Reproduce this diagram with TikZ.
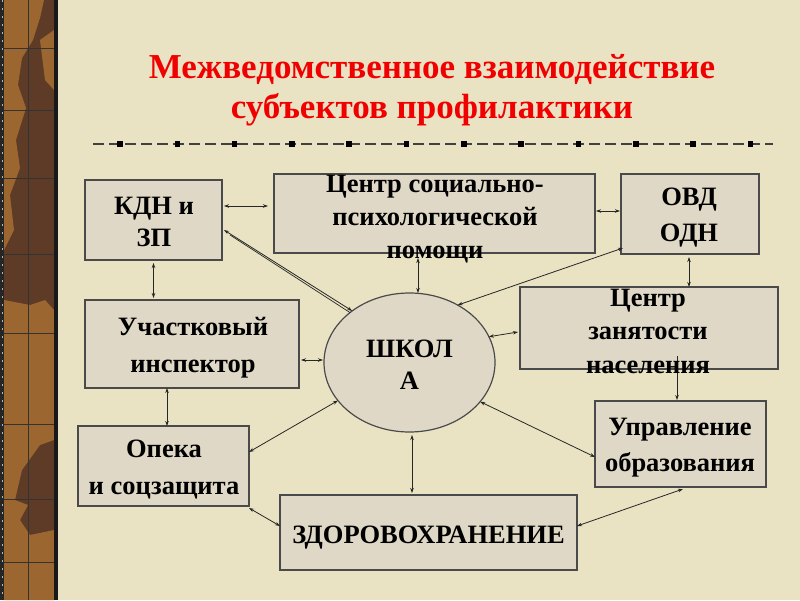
\documentclass[tikz,border=0pt]{standalone}
\usepackage{fontspec}
\setmainfont{Liberation Serif}
\usetikzlibrary{arrows.meta,calc,shapes.geometric}
\definecolor{bg}{HTML}{EAE3C3}
\definecolor{boxfill}{HTML}{DFD8C6}
\definecolor{boxline}{HTML}{4A4A4A}
\definecolor{stripdark}{HTML}{5E3B27}
\definecolor{striporange}{HTML}{9C6630}
\definecolor{titlered}{HTML}{F00000}
\newcommand{\mylines}[2]{{\fontsize{26.5}{#1}\selectfont\bfseries\begin{tabular}[t]{@{}c@{}}#2\end{tabular}}}
\begin{document}
\begin{tikzpicture}[x=1pt,y=-1pt,
  box/.style={draw=boxline,line width=1.2pt,fill=boxfill,rectangle,inner sep=0pt,outer sep=0pt},
  txt/.style={anchor=base,inner sep=0pt,text=black},
  conn/.style={draw=black!85,line width=0.8pt,{Stealth[length=5pt,width=3.5pt]}-{Stealth[length=5pt,width=3.5pt]}},
  oneway/.style={draw=black!85,line width=0.8pt,-{Stealth[length=5pt,width=3.5pt]}},
  grid/.style={draw=black!80,line width=0.6pt}
]
% background
\fill[bg] (0,0) rectangle (800,600);
\useasboundingbox (0,0) rectangle (800,600);
% left strip
\fill[stripdark] (0,0) rectangle (57,600);
\fill[striporange] (4,0) -- (44,0) -- (40,18) -- (33,40) -- (22,58) -- (18,85) -- (26,108) -- (16,140) -- (20,168) -- (10,195) -- (14,230) -- (4,250) -- cycle;
\fill[striporange] (4,300) -- (30,305) -- (45,300) -- (54,310) -- (54,440) -- (40,445) -- (22,470) -- (15,500) -- (28,505) -- (20,520) -- (30,535) -- (54,530) -- (54,600) -- (4,600) -- cycle;
\fill[striporange] (40,40) -- (54,30) -- (54,90) -- (45,80) -- cycle;
\foreach \yy in {48,110,178,254,333,424,499,562}
  \draw[grid] (4,\yy) -- (55,\yy);
\draw[grid] (28,0) -- (28,600);
\fill[black!85] (0,0) rectangle (4,600);
\draw[bg!80!black,line width=1pt,dash pattern=on 2pt off 6pt] (2,0) -- (2,600);
\fill[black!90] (54,0) rectangle (58,600);
% title
\node[anchor=base,inner sep=0pt,text=titlered,font=\fontsize{35}{40}\selectfont\bfseries] (title) at (432,78)
  {\begin{tabular}[t]{@{}c@{}}Межведомственное взаимодействие\\субъектов профилактики\end{tabular}};
% dashed rule with squares
\draw[black!75,line width=1.2pt,dash pattern=on 11pt off 5pt] (93,144) -- (773,144);
\foreach \k in {0,...,11}
  \fill[black] ({120+57.3*\k-2.8},141.2) rectangle ++(5.6,5.6);
% boxes
\node[box,minimum width=137,minimum height=80] (kdn) at (153.5,220) {};
\node[box,minimum width=321,minimum height=79] (csp) at (434.5,213.5) {};
\node[box,minimum width=138,minimum height=80] (ovd) at (690,214) {};
\node[box,minimum width=214,minimum height=88] (uch) at (192,344) {};
\node[box,minimum width=258,minimum height=82] (zan) at (649,328) {};
\node[box,minimum width=171,minimum height=80] (opk) at (163.5,466) {};
\node[box,minimum width=171,minimum height=86] (upr) at (680.5,444) {};
\node[box,minimum width=297,minimum height=75] (zdr) at (428.5,532.5) {};
\node[box,ellipse,minimum width=171,minimum height=139] (sch) at (409.5,362.5) {};
% connectors
\draw[conn] ($(kdn.east |- 0,206)+(2,0)$) -- ($(csp.west |- 0,206)+(-6,0)$);
\draw[conn] ($(csp.east |- 0,211)+(1,0)$) -- ($(ovd.west |- 0,211)+(-1,0)$);
\draw[conn] ($(kdn.south)+(0,3)$) -- ($(uch.north -| kdn.south)+(0,-2)$);
\draw[conn] ($(ovd.south)+(-1,3)$) -- (zan.north -| 689,0);
\draw[conn] ($(csp.south -| 418,0)+(0,5)$) -- (sch.north -| 418,0);
\draw[conn] ($(kdn.east |- 0,230)+(2,0)$) -- (sch.138);
\draw[draw=black!85,line width=0.7pt] ($(kdn.east |- 0,231)+(8,4)$) -- (sch.140);
\draw[conn] ($(ovd.west |- 0,248)+(2,0)$) -- (sch.50);
\draw[conn] ($(uch.east |- 0,360)+(2,0)$) -- ($(sch.west |- 0,360)+(-1,0)$);
\draw[conn] (sch.18) -- ($(zan.west |- 0,332)+(-2,0)$);
\draw[oneway] ($(zan.south -| 677,0)+(0,-13)$) -- ($(upr.north -| 677,0)+(0,-1)$);
\draw[conn] (sch.208) -- (opk.east |- 0,452);
\draw[conn] (sch.331) -- (upr.west |- 0,457);
\draw[conn] ($(sch.south -| 412,0)+(0,3)$) -- ($(zdr.north -| 412,0)+(0,-2)$);
\draw[conn] ($(opk.south east)+(0,2)$) -- (zdr.west |- 0,526);
\draw[conn] (zdr.east |- 0,526) -- ($(upr.south -| 683,0)+(0,2)$);
\draw[conn] (uch.south -| 167,0) -- (opk.north -| 167,0);
% texts
\node[txt] (kdnT) at (154,214) {\mylines{32}{КДН и\\ЗП}};
\node[txt] (cspT) at (435,192.5) {\mylines{33}{Центр социально-\\психологической\\помощи}};
\node[txt] (ovdT) at (689,205) {\mylines{36}{ОВД\\ОДН}};
\node[txt] (uchT) at (193,335) {\mylines{37}{Участковый\\инспектор}};
\node[txt] (zanT) at (648,306) {\mylines{33.5}{Центр\\занятости\\населения}};
\node[txt] (opkT) at (164,457) {\mylines{37.5}{Опека\\и соцзащита}};
\node[txt] (uprT) at (680,435) {\mylines{36.7}{Управление\\образования}};
\node[txt] (zdrT) at (428.5,543) {\mylines{30}{ЗДОРОВОХРАНЕНИЕ}};
\node[txt] (schT) at (409.5,357) {\mylines{32.6}{ШКОЛ\\А}};
\end{tikzpicture}
\end{document}
